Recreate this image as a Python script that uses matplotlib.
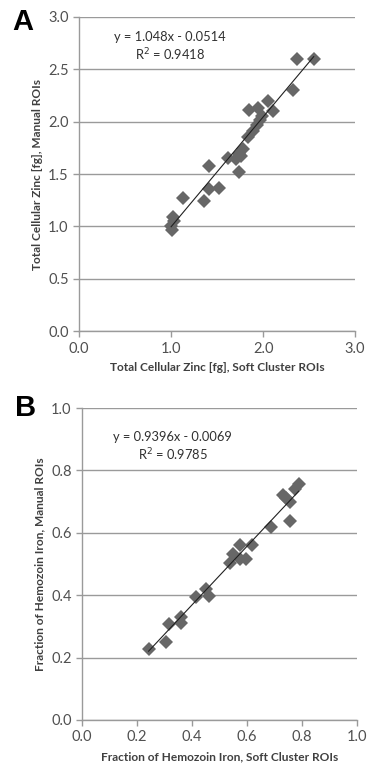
import numpy as np
import matplotlib
matplotlib.use('Agg')
import matplotlib.pyplot as plt

plt.rcParams['font.family'] = ['Lato', 'DejaVu Sans']

# panel A: total cellular zinc [fg]
zinc_soft = [1.00, 1.01, 1.02, 1.03, 1.13, 1.36, 1.41, 1.41, 1.52, 1.62, 1.70, 1.74, 1.74,
             1.78, 1.76, 1.84, 1.85, 1.89, 1.94, 1.93, 1.97, 1.99, 2.05, 2.11, 2.32, 2.37, 2.55]
zinc_manual = [1.00, 0.97, 1.09, 1.05, 1.27, 1.24, 1.58, 1.36, 1.37, 1.65, 1.64, 1.69, 1.52,
               1.74, 1.67, 1.85, 2.11, 1.91, 2.13, 1.97, 2.02, 2.05, 2.20, 2.10, 2.30, 2.60, 2.60]
zinc_fit = (1.048, -0.0514)

# panel B: fraction of hemozoin iron
fe_soft = [0.242, 0.304, 0.315, 0.359, 0.361, 0.416, 0.452, 0.462, 0.537, 0.549, 0.573,
           0.573, 0.595, 0.618, 0.688, 0.731, 0.743, 0.758, 0.755, 0.773, 0.788]
fe_manual = [0.227, 0.249, 0.307, 0.312, 0.330, 0.394, 0.419, 0.398, 0.504, 0.531, 0.562,
             0.517, 0.517, 0.560, 0.620, 0.721, 0.713, 0.700, 0.637, 0.742, 0.756]
fe_fit = (0.9396, -0.0069)

fig = plt.figure(figsize=(3.68, 7.70), dpi=100)
axA = fig.add_axes([0.215, 0.570, 0.750, 0.408])
axB = fig.add_axes([0.223, 0.065, 0.747, 0.405])

panels = [
    (axA, zinc_soft, zinc_manual, zinc_fit, 3.0, 0.5, 1.0,
     'Total Cellular Zinc [fg], Soft Cluster ROIs', 'Total Cellular Zinc [fg], Manual ROIs',
     'y = 1.048x - 0.0514', 'R$^2$ = 0.9418', (0.99, 2.71), 'A', 0.985),
    (axB, fe_soft, fe_manual, fe_fit, 1.0, 0.2, 0.2,
     'Fraction of Hemozoin Iron, Soft Cluster ROIs', 'Fraction of Hemozoin Iron, Manual ROIs',
     'y = 0.9396x - 0.0069', 'R$^2$ = 0.9785', (0.33, 0.875), 'B', 1.0),
]

for ax, xs, ys, fit, top, ystep, xstep, xl, yl, eq, r2, pos, letter, ly in panels:
    ax.set_xlim(0, top)
    ax.set_ylim(0, top)
    yt = np.arange(0, top + 1e-9, ystep)
    ax.set_yticks(yt)
    ax.set_yticklabels(['%.1f' % v for v in yt])
    xt = np.arange(0, top + 1e-9, xstep)
    ax.set_xticks(xt)
    ax.set_xticklabels(['%.1f' % v for v in xt])
    ax.grid(axis='y', color='#9a9a9a', lw=1.0)
    ax.set_axisbelow(True)
    for s in ['top', 'right']:
        ax.spines[s].set_visible(False)
    for s in ['left', 'bottom']:
        ax.spines[s].set_color('#9a9a9a')
        ax.spines[s].set_linewidth(1.0)
    ax.tick_params(colors='#9a9a9a', labelcolor='#505050', labelsize=10.5, length=4, width=1)
    ax.plot(xs, ys, 'D', color='#676767', markersize=7, markeredgewidth=0, zorder=3)
    xx = np.array([min(xs), max(xs)])
    ax.plot(xx, fit[0] * xx + fit[1], color='#202020', lw=0.8, zorder=4)
    ax.set_xlabel(xl, fontsize=8.6, fontweight='bold', color='#404040', labelpad=5)
    ax.set_ylabel(yl, fontsize=8.6, fontweight='bold', color='#404040', labelpad=4)
    ax.text(pos[0], pos[1], eq + '\n' + r2, ha='center', va='center', fontsize=9.3,
            color='#303030', linespacing=1.25)
    ax.text(-0.205, ly, letter, transform=ax.transAxes, fontsize=21, fontweight='bold',
            family='Liberation Sans', ha='center', va='center')

fig.savefig('out.png', dpi=100)
